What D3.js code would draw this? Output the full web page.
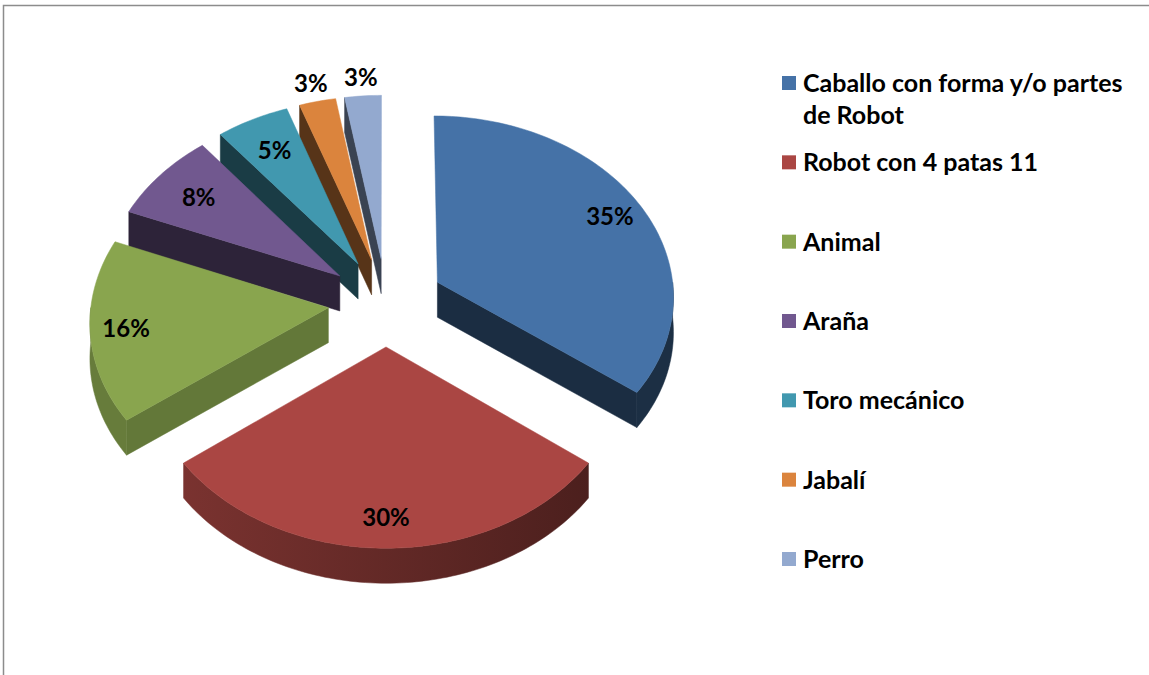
<!DOCTYPE html>
<html>
<head>
<meta charset="utf-8">
<script src="https://cdn.jsdelivr.net/npm/d3@7"></script>
<style>
  body { margin: 0; background: #fff; }
  #chart { width: 1149px; height: 675px; }
  text { font-family: Lato, "Open Sans", sans-serif; font-weight: bold; fill: #000; }
</style>
</head>
<body>
<div id="chart"></div>
<script>
// answers per category (percentages in the picture are count / total)
const categories = ['Caballo con forma y/o partes de Robot', 'Robot con 4 patas 11', 'Animal', 'Araña',
    'Toro mecánico', 'Jabalí', 'Perro'];
const counts = [13, 11, 6, 3, 2, 1, 1];
const colors = ['#4572A7', '#AA4643', '#89A54E', '#71588F', '#4198AF', '#DB843D', '#93A9CF'];

const width = 1149, height = 675;
const cx = 386, cy = 302;       // projected centre of the (un-exploded) top face
const R = 237;                  // pie radius, world units
const tilt = 0.762;             // vertical squash of the disc
const persp = 0.07;             // how much the front grows compared to the back
const explode = 58;
const depth = 35;               // thickness of the slices on screen

const svg = d3.select('#chart').append('svg')
    .attr('width', width)
    .attr('height', height);

// frame (only top and left edge show in the picture)
svg.append('path')
    .attr('d', `M3.5,${height} V5.5 H${width}`)
    .attr('fill', 'none')
    .attr('stroke', '#8c8c8c')
    .attr('stroke-width', 1.5);

const total = d3.sum(counts);
const pct = d3.format('.0%');
const pie = d3.pie().sort(null).startAngle(0).endAngle(2 * Math.PI);
const arcs = pie(counts).map((a, i) => {
    const mid = (a.startAngle + a.endAngle) / 2;
    return { ...a, i, mid, ox: explode * Math.sin(mid), oz: -explode * Math.cos(mid) };
});

// world (x on disc, z toward viewer) -> screen
function project(X, Z, down = 0) {
    const k = 1 / (1 - persp * Z / R);
    return [cx + X * k, cy + Z * tilt * k + down];
}
function pointAt(d, r, theta, down = 0) {
    return project(d.ox + r * Math.sin(theta), d.oz - r * Math.cos(theta), down);
}
function arcPoints(d, a0, a1, down = 0) {
    const n = Math.max(2, Math.ceil((a1 - a0) / 0.02));
    return d3.range(n + 1).map(j => pointAt(d, R, a0 + (a1 - a0) * j / n, down));
}
const line = d3.line();

// outer sides get lighter on the left, darker on the right
const defs = svg.append('defs');
arcs.forEach(d => {
    const c = d3.color(colors[d.i]);
    const g = defs.append('linearGradient')
        .attr('id', 'side' + d.i)
        .attr('gradientUnits', 'userSpaceOnUse')
        .attr('x1', 130).attr('x2', 640).attr('y1', 0).attr('y2', 0);
    g.append('stop').attr('offset', 0).attr('stop-color', c.darker(0.8));
    g.append('stop').attr('offset', 1).attr('stop-color', c.darker(2.5));
});

// paint back slices first
const order = arcs.slice().sort((a, b) => (-Math.cos(a.mid)) - (-Math.cos(b.mid)));

const slices = svg.append('g').selectAll('g')
    .data(order)
    .enter().append('g');

slices.each(function(d) {
    const g = d3.select(this);
    const base = d3.color(colors[d.i]);
    const V = pointAt(d, 0, 0);
    const Vd = pointAt(d, 0, 0, depth);

    // radial walls: start wall faces viewer when sin < 0, end wall when sin > 0
    const walls = [];
    if (Math.sin(d.startAngle) < -1e-6) walls.push({ t: d.startAngle, nx: -Math.cos(d.startAngle) });
    if (Math.sin(d.endAngle) > 1e-6) walls.push({ t: d.endAngle, nx: Math.cos(d.endAngle) });
    walls.forEach(w => {
        const O = pointAt(d, R, w.t);
        const Od = pointAt(d, R, w.t, depth);
        g.append('path')
            .attr('d', line([V, O, Od, Vd]) + 'Z')
            .attr('fill', w.nx > 0 ? base.darker(0.9) : base.darker(2.6))
            .attr('stroke', w.nx > 0 ? base.darker(0.9) : base.darker(2.6))
            .attr('stroke-width', 0.5);
    });

    // curved outer wall, front half only
    const a0 = Math.max(d.startAngle, Math.PI / 2);
    const a1 = Math.min(d.endAngle, 3 * Math.PI / 2);
    if (a1 > a0) {
        const top = arcPoints(d, a0, a1);
        const bottom = arcPoints(d, a0, a1, depth).reverse();
        g.append('path')
            .attr('d', line(top.concat(bottom)) + 'Z')
            .attr('fill', `url(#side${d.i})`)
            .attr('stroke', `url(#side${d.i})`)
            .attr('stroke-width', 0.5);
    }

    // top face
    g.append('path')
        .attr('d', line([V].concat(arcPoints(d, d.startAngle, d.endAngle))) + 'Z')
        .attr('fill', base)
        .attr('stroke', base)
        .attr('stroke-width', 0.5);
});

// percentage labels: inside for big slices, outside for the small ones
svg.append('g').selectAll('text')
    .data(arcs)
    .enter().append('text')
    .attr('x', d => pointAt(d, labelRadius(d), d.mid)[0])
    .attr('y', d => pointAt(d, labelRadius(d), d.mid)[1])
    .attr('text-anchor', 'middle')
    .attr('dominant-baseline', 'central')
    .style('font-size', '24px')
    .text(d => pct(d.data / total));

function labelRadius(d) {
    const share = d.data / total;
    if (share >= 0.1) return R * 0.85;
    if (share >= 0.04) return R * 0.78;
    return R * 1.13;
}

// legend
const legendY = d3.scalePoint().domain(categories).range([83, 559]);
const legend = svg.append('g').selectAll('g')
    .data(categories)
    .enter().append('g')
    .attr('transform', d => `translate(782,${legendY(d)})`);

legend.append('rect')
    .attr('y', -7)
    .attr('width', 14)
    .attr('height', 14)
    .attr('fill', (d, i) => colors[i]);

legend.append('text')
    .attr('x', 21)
    .attr('y', 9)
    .style('font-size', '25px')
    .each(function(d) {
        // wrap long entries onto a second line
        const t = d3.select(this);
        const words = d.split(' ');
        let lineWords = [];
        let tspan = t.append('tspan').attr('x', 21).attr('dy', 0);
        words.forEach(w => {
            lineWords.push(w);
            tspan.text(lineWords.join(' '));
            if (tspan.node().getComputedTextLength() > 345 && lineWords.length > 1) {
                lineWords.pop();
                tspan.text(lineWords.join(' '));
                lineWords = [w];
                tspan = t.append('tspan').attr('x', 21).attr('dy', 32).text(w);
            }
        });
    });
</script>
</body>
</html>
